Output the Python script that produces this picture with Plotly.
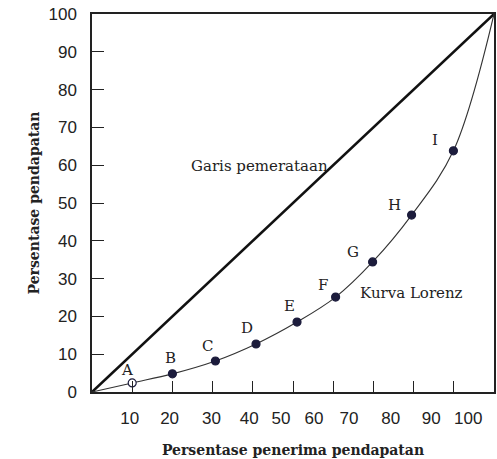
import plotly.graph_objects as go

# ---- data ----
pct_recipients = [0, 10, 20, 30.7, 40.8, 51, 60.6, 69.8, 79.5, 89.9, 100]
pct_income = [0, 2.4, 4.8, 8.2, 12.7, 18.5, 25.1, 34.4, 46.8, 63.8, 100]
point_names = ["A", "B", "C", "D", "E", "F", "G", "H", "I"]
equality_x = [0, 100]
equality_y = [0, 100]
y_tick_values = [0, 10, 20, 30, 40, 50, 60, 70, 80, 90, 100]
x_tick_values = [10, 20, 30, 40, 50, 60, 70, 80, 90]
x_tick_text = ["10", "20", "30", "40", "50", "60", "70", "80", "90", "100"]

# ---- style / layout constants ----
x_label_positions = [9.4, 19.3, 29.7, 39.1, 47.0, 55.2, 63.9, 74.3, 84.4, 93.6]
label_shifts = [(-5, 13), (-2, 16), (-8, 15), (-9, 16), (-8, 16),
                (-13, 12), (-20, 10), (-17, 10), (-18, 11)]
serif = "DejaVu Serif"
sans = "Liberation Sans"
ink = "#222222"

fig = go.Figure()

# Garis pemerataan
fig.add_trace(go.Scatter(x=equality_x, y=equality_y, mode="lines",
                         line=dict(color="#111111", width=2.6),
                         hoverinfo="skip", showlegend=False))
# Kurva Lorenz
fig.add_trace(go.Scatter(x=pct_recipients, y=pct_income, mode="lines",
                         line=dict(color="#333333", width=1.1, shape="spline", smoothing=1.0),
                         hoverinfo="skip", showlegend=False))
# points
px = pct_recipients[1:-1]
py = pct_income[1:-1]
fill = ["white"] + ["#1c1c3c"] * (len(px) - 1)
fig.add_trace(go.Scatter(x=px, y=py, mode="markers",
                         marker=dict(size=8, color=fill, line=dict(color="#1c1c3c", width=1.2)),
                         text=point_names, showlegend=False))

for name, xv, yv, (dx, dy) in zip(point_names, px, py, label_shifts):
    fig.add_annotation(x=xv, y=yv, text=name, showarrow=False, xshift=dx, yshift=dy,
                       font=dict(family=serif, size=15, color=ink))

fig.add_annotation(x=41.6, y=59.8, text="Garis pemerataan", showarrow=False,
                   font=dict(family=serif, size=15, color=ink))
fig.add_annotation(x=79.5, y=26.2, text="Kurva Lorenz", showarrow=False,
                   font=dict(family=serif, size=15, color=ink))

# overlay axis for x tick labels
fig.add_trace(go.Scatter(x=[0, 100], y=[0, 0], xaxis="x2", mode="none",
                         hoverinfo="skip", showlegend=False))

fig.update_layout(
    width=497, height=459,
    margin=dict(l=92, r=1, t=14, b=67),
    paper_bgcolor="white", plot_bgcolor="white",
    xaxis=dict(range=[0, 100], tickvals=x_tick_values, showticklabels=False,
               ticks="inside", ticklen=11, tickwidth=1.3, tickcolor=ink,
               showgrid=False, zeroline=False, showline=True, linecolor=ink,
               linewidth=1.5, mirror=True,
               title=dict(text="<b>Persentase penerima pendapatan</b>", standoff=52,
                          font=dict(family=serif, size=14, color=ink))),
    xaxis2=dict(range=[0, 100], overlaying="x", side="bottom", anchor="y",
                tickvals=x_label_positions, ticktext=x_tick_text, ticks="",
                showgrid=False, zeroline=False, showline=False,
                ticklabelstandoff=14,
                tickfont=dict(family=sans, size=17, color=ink)),
    yaxis=dict(range=[0, 100], tickvals=y_tick_values,
               ticks="inside", ticklen=12, tickwidth=1.3, tickcolor=ink,
               ticklabelstandoff=10,
               tickfont=dict(family=sans, size=17, color=ink),
               showgrid=False, zeroline=False, showline=True, linecolor=ink,
               linewidth=1.5, mirror=True,
               title=dict(text="<b>Persentase pendapatan</b>", standoff=6,
                          font=dict(family=serif, size=14, color=ink))),
)

fig.write_html("out.html", config={"displayModeBar": False},
               post_script="document.body.style.margin='0';document.documentElement.style.overflow='hidden';")
